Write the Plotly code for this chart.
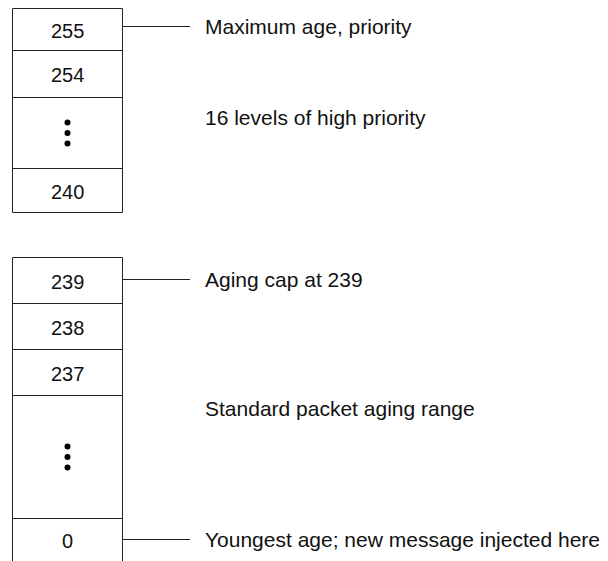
import plotly.graph_objects as go

# ---- content ----
top_cells = ["255", "254", "⋮", "240"]
bottom_cells = ["239", "238", "237", "⋮", "0"]
notes = ["Maximum age, priority", "16 levels of high priority",
         "Aging cap at 239", "Standard packet aging range",
         "Youngest age; new message injected here"]

# ---- geometry (pixel layout of the diagram) ----
W, H = 608, 561
PAGE_OFF = 8  # default body margin of the html page
box_l, box_r = 12.5, 122.5
top_edges = [8.5, 50.5, 97.5, 168.5, 212.5]
bot_edges = [257.5, 303.5, 349.5, 395.5, 518.5, 575.0]
leader_x1 = 190
text_x = 203
note_y = [26.5, 117, 279.5, 408, 539.5]
leader_y = [26.5, 279.5, 539.5]

LINE = "#222222"
FONT = "Liberation Sans, Arial, sans-serif"
FS_CELL = 20
FS_NOTE = 21

fig = go.Figure()
shapes = []
annotations = []
dot_x, dot_y = [], []

def draw_box(edges, labels, open_bottom=False):
    for x in (box_l, box_r):
        shapes.append(dict(type="line", xref="x", yref="y", x0=x, x1=x,
                           y0=edges[0], y1=edges[-1], line=dict(color=LINE, width=1)))
    hz = edges if not open_bottom else edges[:-1]
    for y in hz:
        shapes.append(dict(type="line", xref="x", yref="y", x0=box_l, x1=box_r,
                           y0=y, y1=y, line=dict(color=LINE, width=1)))
    for i, lab in enumerate(labels):
        y_hi = edges[i + 1] if not (open_bottom and i == len(labels) - 1) else edges[i] + 42
        yc = (edges[i] + y_hi) / 2
        if lab == "⋮":
            for dy in (-10.5, 0, 10.5):
                dot_x.append((box_l + box_r) / 2)
                dot_y.append(yc + dy)
        else:
            annotations.append(dict(x=(box_l + box_r) / 2, y=yc + 1, xref="x", yref="y",
                                    text=lab, showarrow=False, xanchor="center",
                                    yanchor="middle",
                                    font=dict(family=FONT, size=FS_CELL, color="#111111")))

draw_box(top_edges, top_cells)
draw_box(bot_edges, bottom_cells, open_bottom=True)

for y in leader_y:
    shapes.append(dict(type="line", xref="x", yref="y", x0=box_r, x1=leader_x1,
                       y0=y, y1=y, line=dict(color=LINE, width=1)))

for txt, y in zip(notes, note_y):
    annotations.append(dict(x=text_x, y=y, xref="x", yref="y", text=txt,
                            showarrow=False, xanchor="left", yanchor="middle",
                            font=dict(family=FONT, size=FS_NOTE, color="#111111")))

fig.add_trace(go.Scatter(x=dot_x, y=dot_y, mode="markers",
                         marker=dict(size=6, color="#000000"),
                         hoverinfo="skip", showlegend=False))

fig.update_layout(
    width=W, height=H, margin=dict(l=0, r=0, t=0, b=0),
    paper_bgcolor="white", plot_bgcolor="white",
    xaxis=dict(range=[PAGE_OFF, W + PAGE_OFF], visible=False, fixedrange=True),
    yaxis=dict(range=[H + PAGE_OFF, PAGE_OFF], visible=False, fixedrange=True),
    shapes=shapes, annotations=annotations, showlegend=False,
)

fig.write_html("out.html")
